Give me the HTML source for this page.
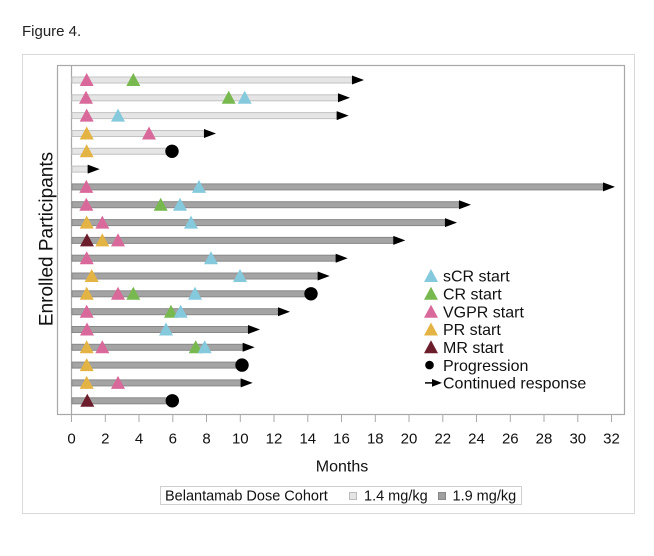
<!DOCTYPE html>
<html><head><meta charset="utf-8"><style>
html,body{margin:0;padding:0;background:#fff;}
svg{display:block;font-family:"Liberation Sans",Arial,sans-serif;}
</style></head><body>
<svg width="654" height="556" viewBox="0 0 654 556" xmlns="http://www.w3.org/2000/svg">
<defs>
<path id="t" d="M0,-7 L7,6 L-7,6Z"/>
<path id="a" d="M0,-4.5 L12,0 L0,4.5Z"/>
</defs>
<rect width="654" height="556" fill="#fff"/>
<text x="22" y="36" font-size="15" fill="#222">Figure 4.</text>
<rect x="22.5" y="54.5" width="612" height="459" fill="none" stroke="#d9d9d9" stroke-width="1"/>
<rect x="57.5" y="65.5" width="567" height="349" fill="none" stroke="#a8a8a8" stroke-width="1.2"/>
<line x1="71.5" y1="65" x2="71.5" y2="415" stroke="#a8a8a8" stroke-width="1.2"/>
<!-- ticks -->
<g stroke="#a8a8a8" stroke-width="1">
<line x1="71.5" y1="415" x2="71.5" y2="422"/><line x1="105.3" y1="415" x2="105.3" y2="422"/><line x1="139" y1="415" x2="139" y2="422"/><line x1="172.8" y1="415" x2="172.8" y2="422"/><line x1="206.5" y1="415" x2="206.5" y2="422"/><line x1="240.3" y1="415" x2="240.3" y2="422"/><line x1="274" y1="415" x2="274" y2="422"/><line x1="307.8" y1="415" x2="307.8" y2="422"/><line x1="341.5" y1="415" x2="341.5" y2="422"/><line x1="375.3" y1="415" x2="375.3" y2="422"/><line x1="409" y1="415" x2="409" y2="422"/><line x1="442.8" y1="415" x2="442.8" y2="422"/><line x1="476.5" y1="415" x2="476.5" y2="422"/><line x1="510.3" y1="415" x2="510.3" y2="422"/><line x1="544" y1="415" x2="544" y2="422"/><line x1="577.8" y1="415" x2="577.8" y2="422"/><line x1="611.5" y1="415" x2="611.5" y2="422"/>
</g>
<g font-size="15" fill="#111" text-anchor="middle">
<text x="71.5" y="443.5">0</text><text x="105.3" y="443.5">2</text><text x="139" y="443.5">4</text><text x="172.8" y="443.5">6</text><text x="206.5" y="443.5">8</text><text x="240.3" y="443.5">10</text><text x="274" y="443.5">12</text><text x="307.8" y="443.5">14</text><text x="341.5" y="443.5">16</text><text x="375.3" y="443.5">18</text><text x="409" y="443.5">20</text><text x="442.8" y="443.5">22</text><text x="476.5" y="443.5">24</text><text x="510.3" y="443.5">26</text><text x="544" y="443.5">28</text><text x="577.8" y="443.5">30</text><text x="611.5" y="443.5">32</text>
</g>
<text x="342" y="471.5" font-size="16" fill="#111" text-anchor="middle">Months</text>
<text transform="translate(52.5,239) rotate(-90)" font-size="19" fill="#111" text-anchor="middle">Enrolled Participants</text>

<!-- bars: light -->
<g fill="#e5e5e5" stroke="#c2c2c2" stroke-width="1">
<rect x="72" y="77" width="280" height="6"/>
<rect x="72" y="94.8" width="266" height="6"/>
<rect x="72" y="112.6" width="264.7" height="6"/>
<rect x="72" y="130.5" width="132" height="6"/>
<rect x="72" y="148.3" width="100" height="6"/>
<rect x="72" y="166.1" width="15.7" height="6"/>
</g>
<!-- bars: dark -->
<g fill="#a4a4a4" stroke="#888" stroke-width="1">
<rect x="72" y="183.9" width="531" height="6"/>
<rect x="72" y="201.7" width="387" height="6"/>
<rect x="72" y="219.6" width="373" height="6"/>
<rect x="72" y="237.4" width="321.3" height="6"/>
<rect x="72" y="255.2" width="263.7" height="6"/>
<rect x="72" y="273" width="245.7" height="6"/>
<rect x="72" y="290.8" width="239" height="6"/>
<rect x="72" y="308.7" width="206" height="6"/>
<rect x="72" y="326.5" width="176" height="6"/>
<rect x="72" y="344.3" width="170.7" height="6"/>
<rect x="72" y="362.1" width="170" height="6"/>
<rect x="72" y="379.9" width="168.7" height="6"/>
<rect x="72" y="397.8" width="100.3" height="6"/>
</g>
<!-- arrows -->
<g fill="#000">
<use href="#a" x="352" y="80"/>
<use href="#a" x="338" y="97.8"/>
<use href="#a" x="336.7" y="115.6"/>
<use href="#a" x="204" y="133.5"/>
<use href="#a" x="87.7" y="169.1"/>
<use href="#a" x="603" y="186.9"/>
<use href="#a" x="459" y="204.7"/>
<use href="#a" x="445" y="222.6"/>
<use href="#a" x="393.3" y="240.4"/>
<use href="#a" x="335.7" y="258.2"/>
<use href="#a" x="317.7" y="276"/>
<use href="#a" x="278" y="311.7"/>
<use href="#a" x="248" y="329.5"/>
<use href="#a" x="242.7" y="347.3"/>
<use href="#a" x="240.7" y="382.9"/>
<circle cx="172" cy="151.3" r="6.7"/>
<circle cx="311" cy="293.8" r="6.7"/>
<circle cx="242" cy="365.1" r="6.7"/>
<circle cx="172.3" cy="400.8" r="6.7"/>
</g>
<!-- triangles -->
<g>
<use href="#t" x="86.7" y="80" fill="#d8699a"/><use href="#t" x="133.3" y="80" fill="#77b84f"/>
<use href="#t" x="86" y="97.8" fill="#d8699a"/><use href="#t" x="228.7" y="97.8" fill="#77b84f"/><use href="#t" x="244.7" y="97.8" fill="#85c9dd"/>
<use href="#t" x="86.7" y="115.6" fill="#d8699a"/><use href="#t" x="118" y="115.6" fill="#85c9dd"/>
<use href="#t" x="86.7" y="133.5" fill="#e3b443"/><use href="#t" x="149" y="133.5" fill="#d8699a"/>
<use href="#t" x="86.7" y="151.3" fill="#e3b443"/>
<use href="#t" x="86.3" y="186.9" fill="#d8699a"/><use href="#t" x="199" y="186.9" fill="#85c9dd"/>
<use href="#t" x="86.3" y="204.7" fill="#d8699a"/><use href="#t" x="160.7" y="204.7" fill="#77b84f"/><use href="#t" x="180" y="204.7" fill="#85c9dd"/>
<use href="#t" x="86.7" y="222.6" fill="#e3b443"/><use href="#t" x="102.3" y="222.6" fill="#d8699a"/><use href="#t" x="191" y="222.6" fill="#85c9dd"/>
<use href="#t" x="87" y="240.4" fill="#6b1d2b"/><use href="#t" x="102.3" y="240.4" fill="#e3b443"/><use href="#t" x="118" y="240.4" fill="#d8699a"/>
<use href="#t" x="86.7" y="258.2" fill="#d8699a"/><use href="#t" x="211" y="258.2" fill="#85c9dd"/>
<use href="#t" x="91.7" y="276" fill="#e3b443"/><use href="#t" x="240" y="276" fill="#85c9dd"/>
<use href="#t" x="86.7" y="293.8" fill="#e3b443"/><use href="#t" x="118" y="293.8" fill="#d8699a"/><use href="#t" x="133.3" y="293.8" fill="#77b84f"/><use href="#t" x="195" y="293.8" fill="#85c9dd"/>
<use href="#t" x="86.7" y="311.7" fill="#d8699a"/><use href="#t" x="171" y="311.7" fill="#77b84f"/><use href="#t" x="180.7" y="311.7" fill="#85c9dd"/>
<use href="#t" x="87" y="329.5" fill="#d8699a"/><use href="#t" x="166" y="329.5" fill="#85c9dd"/>
<use href="#t" x="86.7" y="347.3" fill="#e3b443"/><use href="#t" x="102.3" y="347.3" fill="#d8699a"/><use href="#t" x="195.7" y="347.3" fill="#77b84f"/><use href="#t" x="204.7" y="347.3" fill="#85c9dd"/>
<use href="#t" x="86.7" y="365.1" fill="#e3b443"/>
<use href="#t" x="86.7" y="382.9" fill="#e3b443"/><use href="#t" x="118" y="382.9" fill="#d8699a"/>
<use href="#t" x="87.3" y="400.8" fill="#6b1d2b"/>
</g>
<!-- right legend -->
<g>
<use href="#t" x="431" y="276" fill="#85c9dd"/>
<use href="#t" x="431" y="293.8" fill="#77b84f"/>
<use href="#t" x="431" y="311.7" fill="#d8699a"/>
<use href="#t" x="431" y="329.5" fill="#e3b443"/>
<use href="#t" x="431" y="347.3" fill="#6b1d2b"/>
<circle cx="429.5" cy="365.1" r="4.3" fill="#000"/>
<line x1="425" y1="382.9" x2="434" y2="382.9" stroke="#000" stroke-width="1.5"/>
<path d="M432,379 L442,382.9 L432,386.8Z" fill="#000"/>
</g>
<g font-size="16" fill="#111">
<text x="443" y="281.7">sCR start</text>
<text x="443" y="299.5">CR start</text>
<text x="443" y="317.4">VGPR start</text>
<text x="443" y="335.2">PR start</text>
<text x="443" y="353">MR start</text>
<text x="443" y="370.8">Progression</text>
<text x="443" y="388.6">Continued response</text>
</g>
<!-- bottom legend -->
<rect x="160.5" y="486.5" width="361" height="18" fill="#fff" stroke="#cfcfcf" stroke-width="1"/>
<g font-size="14.5" fill="#111">
<text x="165" y="500.5">Belantamab Dose Cohort</text>
<rect x="349.5" y="492.5" width="7" height="7" fill="#e5e5e5" stroke="#bdbdbd"/>
<text x="364" y="500.5">1.4 mg/kg</text>
<rect x="438.5" y="492.5" width="7" height="7" fill="#a0a0a0" stroke="#888"/>
<text x="452.5" y="500.5">1.9 mg/kg</text>
</g>
</svg>
</body></html>
